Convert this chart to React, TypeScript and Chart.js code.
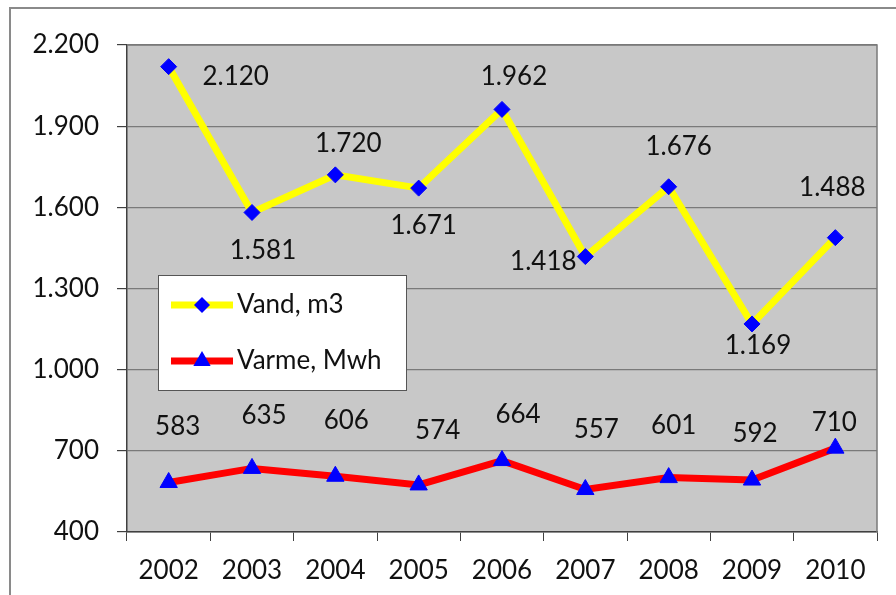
import React, { useEffect, useRef } from "react";
import { Chart, registerables } from "chart.js";

Chart.register(...registerables);

const years = ["2002", "2003", "2004", "2005", "2006", "2007", "2008", "2009", "2010"];
const vand = [2120, 1581, 1720, 1671, 1962, 1418, 1676, 1169, 1488];
const varme = [583, 635, 606, 574, 664, 557, 601, 592, 710];
const yMin = 400;
const yMax = 2200;
const yStep = 300;

// label placement offsets (dx, dy) from each point, in px (style only)
const vandLabelDx = [67, 11, 13, 5, 12, -42, 10, 6, -3];
const vandLabelDy = [10, 38, -31, 37, -33, 5, -40, 22, -50];
const varmeLabelDx = [9, 12, 11, 19, 16, 11, 5, 3, -1];
const varmeLabelDy = [-56, -53, -56, -54, -46, -60, -52, -46, -26];

const FONT = "Lato, 'Open Sans', sans-serif";
const FS = 26;
const fmt = (n: number) => String(n).replace(/\B(?=(\d{3})+(?!\d))/g, ".");

const decorPlugin = {
  id: "decor",
  beforeDraw(chart: any) {
    const { ctx, chartArea } = chart;
    ctx.save();
    ctx.fillStyle = "#ffffff";
    ctx.fillRect(0, 0, chart.width, chart.height);
    // outer frame
    ctx.strokeStyle = "#8a8a8a";
    ctx.lineWidth = 2;
    ctx.beginPath();
    ctx.moveTo(10, chart.height);
    ctx.lineTo(10, 8);
    ctx.lineTo(chart.width, 8);
    ctx.stroke();
    // plot background
    ctx.fillStyle = "#c8c8c8";
    ctx.fillRect(chartArea.left, chartArea.top, chartArea.right - chartArea.left, chartArea.bottom - chartArea.top);
    ctx.restore();
  },
  beforeDatasetsDraw(chart: any) {
    const { ctx, chartArea } = chart;
    ctx.save();
    ctx.strokeStyle = "#7a7a7a";
    ctx.lineWidth = 1.5;
    ctx.beginPath();
    ctx.moveTo(chartArea.left, chartArea.top);
    ctx.lineTo(chartArea.right, chartArea.top);
    ctx.lineTo(chartArea.right, chartArea.bottom);
    ctx.stroke();
    ctx.restore();
  },
  afterDatasetsDraw(chart: any) {
    const { ctx, chartArea } = chart;
    ctx.save();
    ctx.font = `${FS}px ${FONT}`;
    ctx.fillStyle = "#111111";
    ctx.textAlign = "center";
    ctx.textBaseline = "middle";
    const sets = [
      { i: 0, data: vand, dx: vandLabelDx, dy: vandLabelDy },
      { i: 1, data: varme, dx: varmeLabelDx, dy: varmeLabelDy },
    ];
    sets.forEach((s) => {
      const meta = chart.getDatasetMeta(s.i);
      meta.data.forEach((pt: any, j: number) => {
        ctx.fillText(fmt(s.data[j]), pt.x + s.dx[j], pt.y + s.dy[j]);
      });
    });

    // legend box
    const lx = chartArea.left + 31;
    const ly = chartArea.top + 230;
    const lw = 248;
    const lh = 115;
    ctx.fillStyle = "#ffffff";
    ctx.fillRect(lx, ly, lw, lh);
    ctx.strokeStyle = "#555555";
    ctx.lineWidth = 1;
    ctx.strokeRect(lx + 0.5, ly + 0.5, lw, lh);
    const rows = [
      { ds: chart.data.datasets[0], y: ly + 30 },
      { ds: chart.data.datasets[1], y: ly + 86 },
    ];
    rows.forEach((r) => {
      ctx.strokeStyle = r.ds.borderColor;
      ctx.lineWidth = 7;
      ctx.beginPath();
      ctx.moveTo(lx + 13, r.y);
      ctx.lineTo(lx + 75, r.y);
      ctx.stroke();
      ctx.fillStyle = "#0000ff";
      ctx.beginPath();
      const cx = lx + 44;
      const rr = r.ds.pointRadius;
      if (r.ds.pointStyle === "rectRot") {
        ctx.moveTo(cx, r.y - rr);
        ctx.lineTo(cx + rr, r.y);
        ctx.lineTo(cx, r.y + rr);
        ctx.lineTo(cx - rr, r.y);
      } else {
        ctx.moveTo(cx, r.y - rr);
        ctx.lineTo(cx + rr * 0.866, r.y + rr * 0.5);
        ctx.lineTo(cx - rr * 0.866, r.y + rr * 0.5);
      }
      ctx.closePath();
      ctx.fill();
      ctx.fillStyle = "#111111";
      ctx.textAlign = "left";
      ctx.textBaseline = "middle";
      ctx.fillText(r.ds.label, lx + 79, r.y);
    });
    ctx.restore();
  },
};

export default function App() {
  const ref = useRef<HTMLCanvasElement | null>(null);
  useEffect(() => {
    document.body.style.margin = "0";
    const chart = new Chart(ref.current as HTMLCanvasElement, {
      type: "line",
      data: {
        labels: years,
        datasets: [
          {
            label: "Vand, m3",
            data: vand,
            borderColor: "#ffff00",
            borderWidth: 7,
            pointStyle: "rectRot",
            pointRadius: 8,
            pointBackgroundColor: "#0000ff",
            pointBorderColor: "#0000ff",
            pointBorderWidth: 1,
            tension: 0,
          },
          {
            label: "Varme, Mwh",
            data: varme,
            borderColor: "#ff0000",
            borderWidth: 7,
            pointStyle: "triangle",
            pointRadius: 10,
            pointBackgroundColor: "#0000ff",
            pointBorderColor: "#0000ff",
            pointBorderWidth: 1,
            tension: 0,
          },
        ],
      },
      options: {
        responsive: false,
        animation: false,
        layout: { padding: { left: 0, top: 45, right: 19, bottom: 0 } },
        plugins: { legend: { display: false }, tooltip: { enabled: false } },
        scales: {
          x: {
            offset: true,
            afterFit: (s: any) => { s.height = 63; },
            grid: { drawOnChartArea: false, drawTicks: true, tickLength: 9, tickColor: "#404040", offset: true },
            border: { display: true, color: "#404040", width: 1.5 },
            ticks: { color: "#111111", font: { family: FONT, size: FS }, padding: 14, maxRotation: 0 },
          },
          y: {
            min: yMin,
            max: yMax,
            afterFit: (s: any) => { s.width = 127; },
            grid: { color: "#7a7a7a", lineWidth: 1.2, drawTicks: true, tickLength: 10, tickColor: "#404040" },
            border: { display: true, color: "#404040", width: 1.5 },
            ticks: {
              stepSize: yStep,
              color: "#111111",
              font: { family: FONT, size: FS },
              padding: 18,
              callback: (v: any) => fmt(Number(v)),
            },
          },
        },
      },
      plugins: [decorPlugin],
    });
    return () => chart.destroy();
  }, []);
  return (
    <div style={{ width: 896, height: 595 }}>
      <canvas ref={ref} width={896} height={595} />
    </div>
  );
}
